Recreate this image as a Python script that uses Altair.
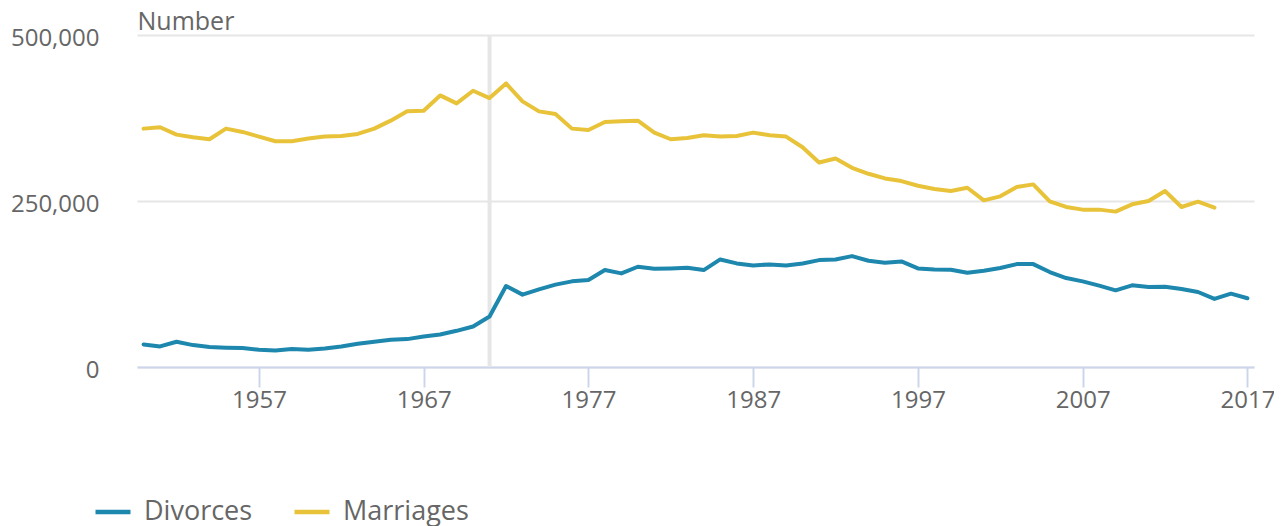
import altair as alt
import pandas as pd

years = list(range(1950, 2018))

divorces = [34000, 31000, 38000, 33000, 30000, 29000, 28500, 26000, 25000, 27000,
            26000, 28000, 31000, 35000, 38000, 41000, 42000, 46000, 49000, 54500,
            61000, 76000, 122000, 109000, 117000, 124000, 129000, 131000, 146000, 141000,
            151000, 148000, 148500, 149500, 146000, 162000, 156000, 153000, 154500, 153000,
            156000, 161000, 162000, 167000, 160000, 157000, 159000, 148500, 147000, 146500,
            142000, 145000, 149000, 155000, 155000, 143000, 134000, 129000, 122500, 115500,
            123000, 120500, 121000, 117500, 113000, 102500, 110500, 103500]

marriages = [359000, 361000, 350000, 346000, 343000, 359000, 354000, 347000, 340000, 340000,
             344000, 347000, 348000, 351000, 359000, 371000, 385000, 386000, 409000, 397000,
             416000, 405000, 427000, 400000, 385000, 381000, 359000, 357000, 369000, 370000,
             371000, 353000, 343000, 345000, 349000, 347000, 348000, 353000, 349000, 347000,
             331000, 308000, 314000, 300000, 291000, 284000, 280000, 273000, 268000, 265000,
             270000, 251000, 257000, 271000, 275000, 249500, 241000, 237000, 237000, 234000,
             245000, 250000, 265000, 241000, 249000, 240000]

series_names = ["Divorces", "Marriages"]
series_colors = ["#1d87ae", "#e8c33a"]
x_ticks = [1957, 1967, 1977, 1987, 1997, 2007, 2017]
y_ticks = [0, 250000, 500000]
reform_year = [1971]

rows = []
for y, v in zip(years, divorces):
    rows.append({"year": y, "value": v, "series": "Divorces"})
for y, v in zip(years, marriages):
    rows.append({"year": y, "value": v, "series": "Marriages"})
df = pd.DataFrame(rows)
rule_df = pd.DataFrame({"year": reform_year, "value": [0], "hi": [500000]})

FONT = "Open Sans"
GRAY = "#666666"

x_scale = alt.Scale(domain=[1949.6, 2017.4], nice=False, zero=False)
y_scale = alt.Scale(domain=[0, 500000], nice=False)

x_axis = alt.Axis(values=x_ticks, format="d", title=None, grid=False,
                  tickSize=20, tickColor="#ccd6eb", tickWidth=2,
                  domainColor="#ccd6eb", domainWidth=2,
                  labelFontSize=24, labelColor=GRAY, labelFont=FONT,
                  labelPadding=1, labelFlush=False)
y_axis = alt.Axis(values=y_ticks, format=",.0f", title="Number",
                  titleAngle=0, titleX=0, titleY=-6, titleAlign="left",
                  titleBaseline="alphabetic", titleFontSize=25, titleFont=FONT,
                  titleColor=GRAY, titleFontWeight="normal",
                  grid=True, gridColor="#e6e6e6", gridWidth=2,
                  domain=False, ticks=False, tickSize=0,
                  labelFontSize=24, labelColor=GRAY, labelFont=FONT,
                  labelPadding=38, labelOffset=3)

rule = alt.Chart(rule_df).mark_rule(color="#e6e6e6", strokeWidth=4).encode(
    x=alt.X("year:Q", scale=x_scale, axis=x_axis),
    y=alt.Y("value:Q", scale=y_scale, axis=y_axis),
    y2="hi:Q",
)

lines = alt.Chart(df).mark_line(strokeWidth=4, strokeJoin="round", strokeCap="round").encode(
    x=alt.X("year:Q", scale=x_scale, axis=x_axis),
    y=alt.Y("value:Q", scale=y_scale, axis=y_axis),
    color=alt.Color("series:N",
                    scale=alt.Scale(domain=series_names, range=series_colors),
                    legend=alt.Legend(title=None, orient="none", legendX=-44, legendY=457,
                                      direction="horizontal", symbolType="stroke",
                                      symbolSize=1225, symbolStrokeWidth=4.5,
                                      labelFontSize=27, labelColor=GRAY, labelFont=FONT,
                                      labelOffset=11, columnPadding=32, padding=0)),
)

chart = alt.layer(rule, lines).properties(
    width=1117, height=332,
    autosize=alt.AutoSizeParams(type="none"),
    padding={"left": 129, "top": 27, "right": 20, "bottom": 160},
).configure(font=FONT).configure_view(strokeWidth=0)

chart.save("out.html", embed_options={"renderer": "svg", "actions": False})
